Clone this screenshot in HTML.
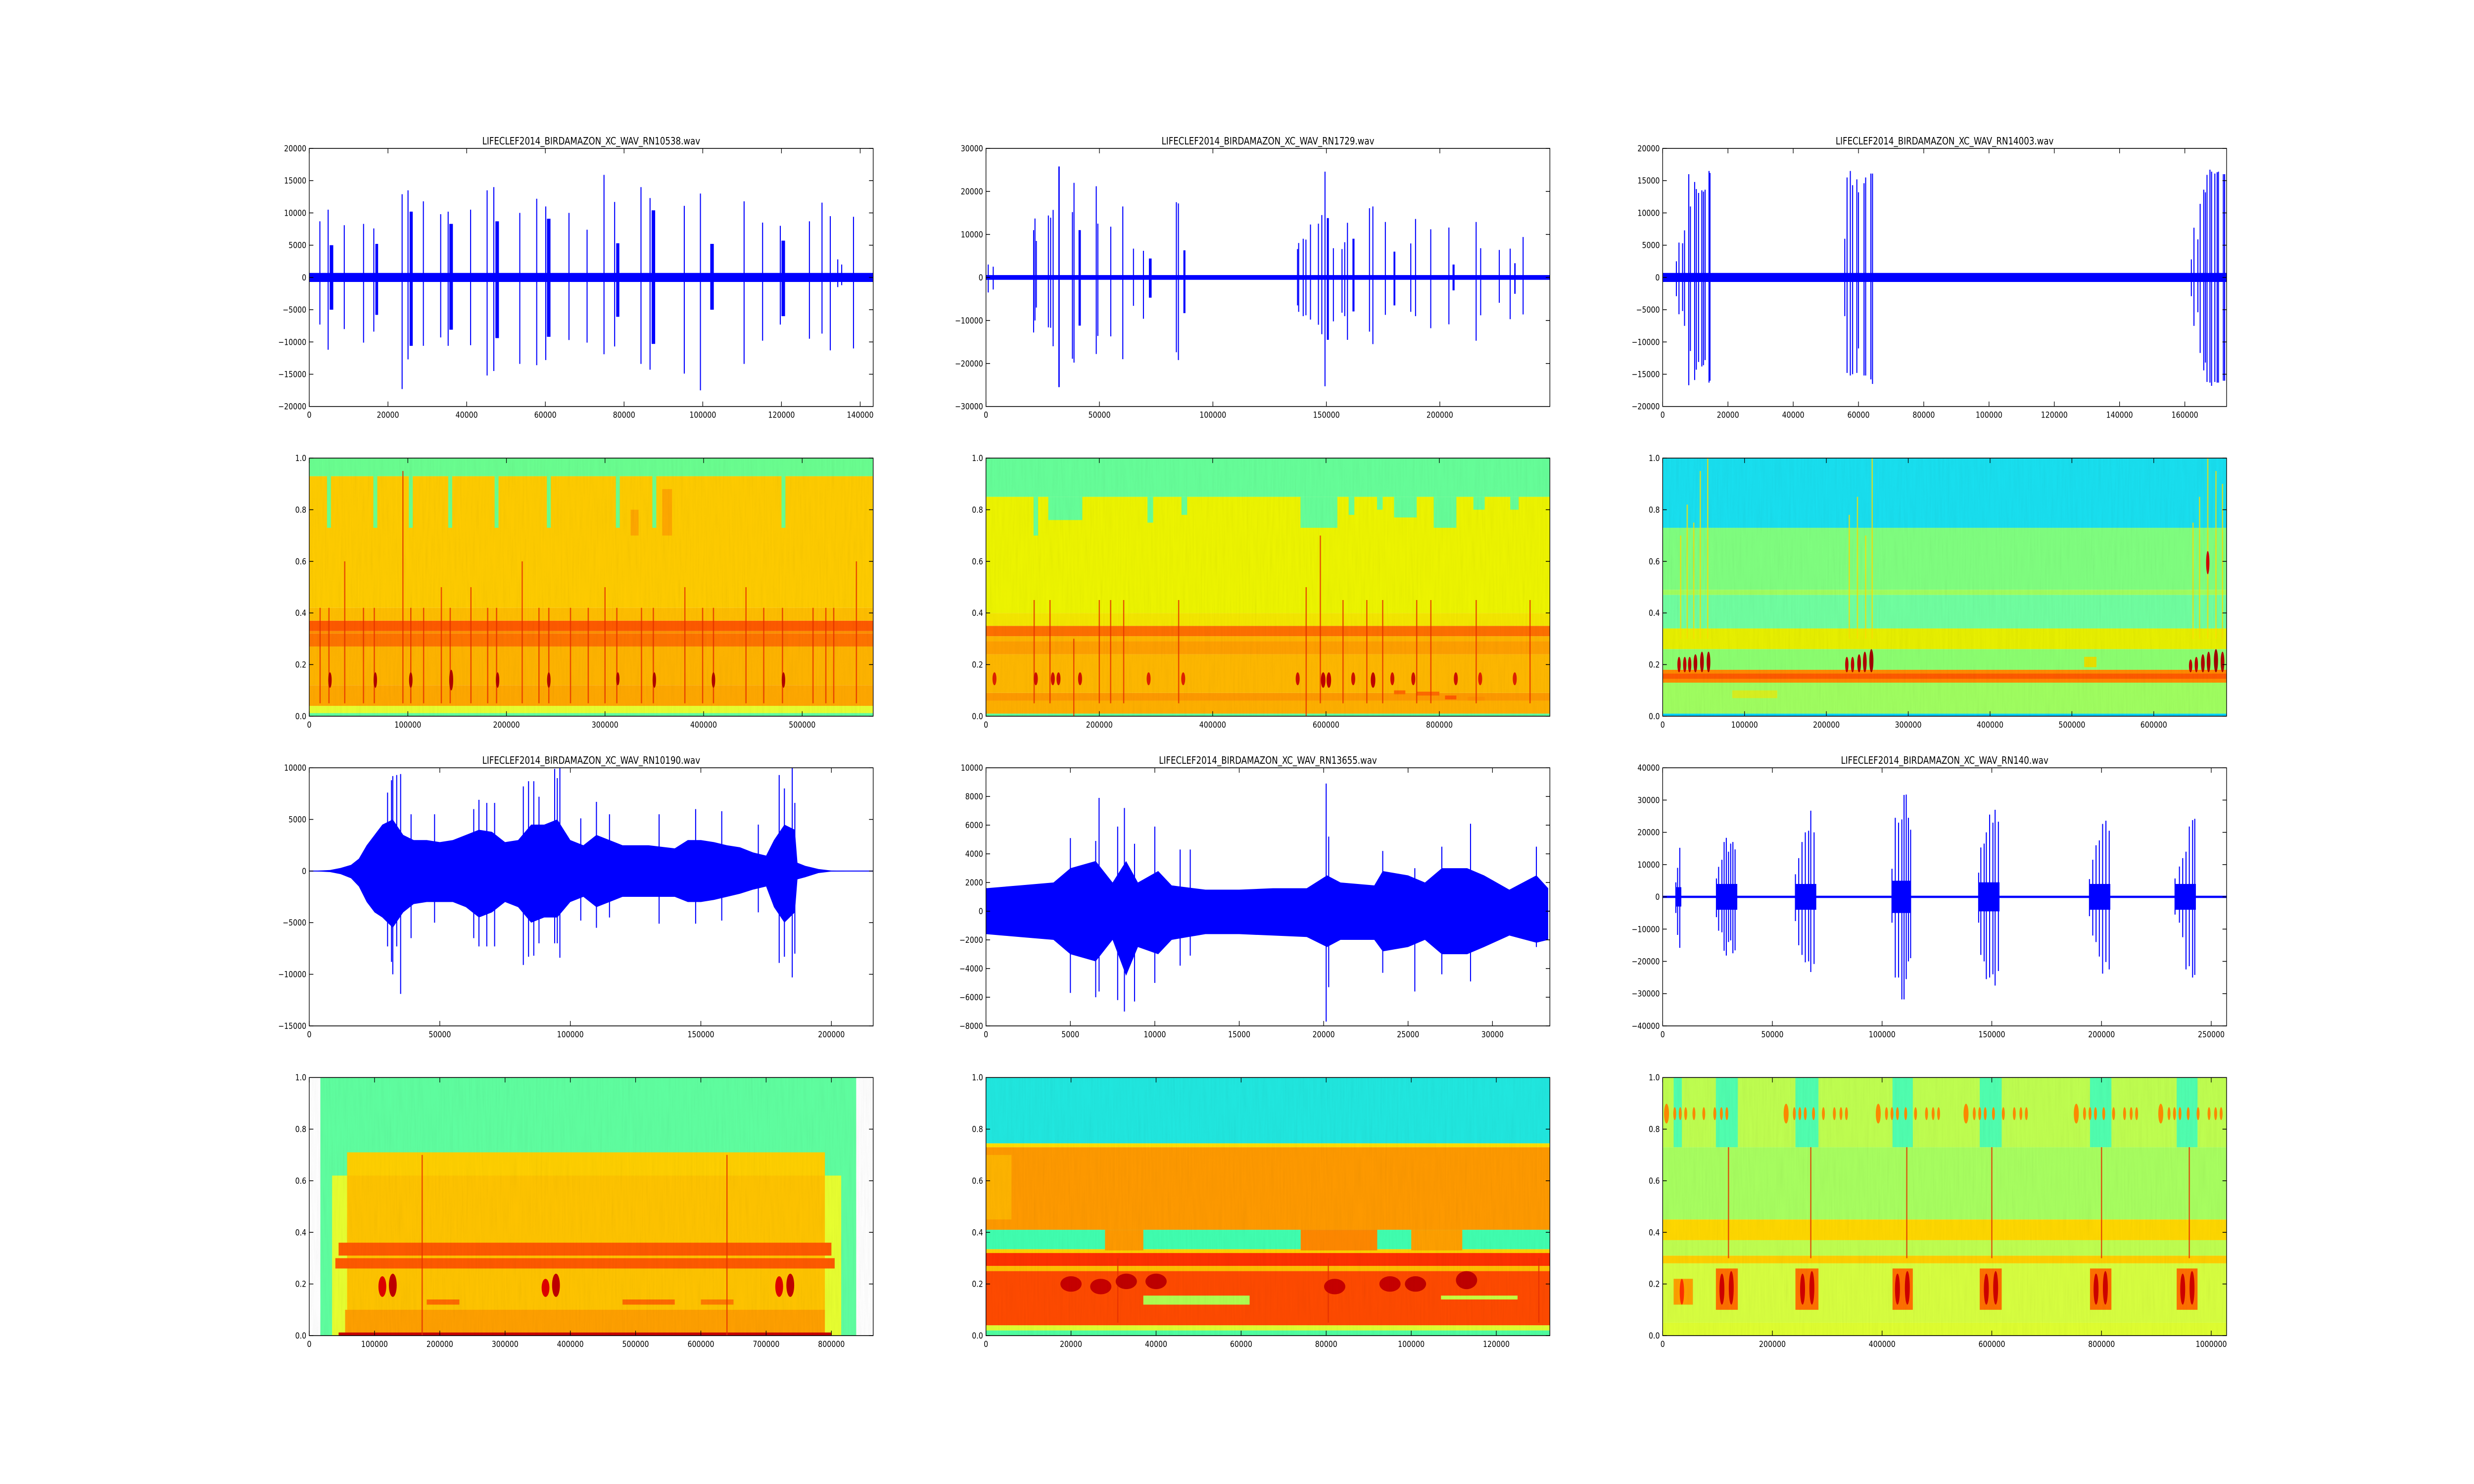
<!DOCTYPE html>
<html><head><meta charset="utf-8"><title>Bird audio waveforms and spectrograms</title>
<style>html,body{margin:0;padding:0;background:#fff;width:100%;height:100%;overflow:hidden;}svg{display:block;width:100vw;height:100vh;}text{font-family:"DejaVu Sans","Liberation Sans",sans-serif;fill:#000;}</style>
</head><body>
<svg id="fig" xmlns="http://www.w3.org/2000/svg" viewBox="0 0 6000 3000" preserveAspectRatio="none">
<defs>
<filter id="grain" x="0" y="0" width="100%" height="100%"><feTurbulence type="fractalNoise" baseFrequency="0.25 0.012" numOctaves="2" seed="3"/><feColorMatrix type="saturate" values="0"/></filter>
</defs>
<rect x="0" y="0" width="6000" height="3000" fill="#fff"/>
</svg>
<script>
// ---------- waveform data: spikes [sample, max, min, width] ----------
const w1Spikes=[[2700,8700,-7300],[4800,10500,-11200],[5200,5000,-5000,900],[8900,8100,-8000],[13800,8300,-10100],[16400,7600,-8400],[16800,5200,-5800,700],[23600,12900,-17300],[25100,13500,-12700],[25500,10200,-10600,800],[29000,11800,-10600],[33400,9800,-9300],[35300,10200,-10600],[35600,8300,-8100,900],[41000,10500,-10500],[45200,13500,-15200],[46900,14000,-14500],[47300,8700,-9400,900],[53500,10000,-13400],[57800,12200,-13600],[60100,11000,-12800],[60400,9100,-9200,900],[66000,10000,-9700],[70600,7400,-10100],[74900,15900,-11900],[77600,11700,-10700],[78000,5300,-6100,800],[84300,14000,-13400],[86600,12300,-14300],[87000,10400,-10300,900],[95300,11100,-14900],[99400,13000,-17500],[101900,5200,-5000,900],[110500,11800,-13400],[115200,8500,-9800],[119700,8000,-7300],[120000,5700,-6000,900],[127100,8700,-9500],[130300,11600,-8700],[132400,9500,-11300],[134300,2800,-1500],[135300,2000,-1200],[138300,9400,-11000]];
const w2Spikes=[[1000,3000,-3500],[3200,2500,-2800],[21000,11000,-12800],[21600,13700,-10000],[22200,8500,-7000],[27500,14400,-11600],[28500,13900,-11700],[29600,15700,-16000],[31900,25800,-25500,600],[38100,15200,-18900],[38800,22000,-19800],[40800,11000,-11200,1000],[48600,21200,-17800],[49300,12500,-13600],[55000,11800,-13700],[60300,16500,-19000],[65000,6700,-6600],[69400,6200,-9600],[71800,4400,-4700,1200],[83900,17500,-17400],[84800,17200,-19200],[87000,6300,-8300,900],[137300,6600,-6500],[137800,8000,-8000],[139800,9000,-9000],[141000,8800,-8800],[143000,12300,-9800],[146500,12500,-11000],[148000,14500,-13200],[149400,24600,-25300],[150200,13800,-14500,900],[153100,6800,-10200],[156900,6600,-8200],[158100,8200,-9000],[159300,12700,-14500],[161500,9000,-7900,900],[169000,16100,-12600],[170500,16500,-15500],[176000,12900,-8700],[179600,6000,-6500,800],[187200,7900,-8000],[189300,13600,-9000],[196000,11200,-11800],[204000,11600,-10900],[205600,3000,-3000,900],[216000,12900,-14700],[218000,6800,-8800],[226200,6400,-5900],[231000,6700,-9700],[232800,3300,-3800,600],[236700,9400,-8600]];
const w3Spikes=[[4200,2500,-2900],[5000,5400,-5700],[6100,5300,-5200],[6700,7300,-7500],[8000,16000,-16700],[8500,11000,-11400],[9800,14800,-15900],[10300,13700,-14300],[11000,13100,-13100],[12000,13500,-13800],[12500,13300,-13600],[13000,13600,-12800],[14200,16500,-16300],[14500,16200,-16000],[55800,6000,-6000],[56500,15500,-14800],[57500,16500,-15200],[58200,14300,-15000],[59500,15200,-14800],[60000,13200,-11000],[61700,14600,-15200],[62200,15500,-15200],[63800,16100,-15800],[64300,16100,-16500],[162000,2800,-2900],[162800,7700,-7500],[164000,5900,-5400],[164700,11400,-11700],[165800,13600,-14400],[166300,13200,-13200],[166800,15900,-16200],[167700,16700,-16300],[168200,16400,-16800],[169200,16100,-16200],[169900,16300,-16300],[170300,16400,-16300],[171800,16000,-16000],[172200,16000,-16000]];
const w4Envelope=[[0,0,0],[8000,100,-100],[12000,300,-300],[16000,600,-700],[19000,1200,-1500],[22000,2500,-3000],[25000,3500,-4000],[28000,4500,-4500],[32000,5000,-5500],[36000,3500,-4000],[40000,3000,-3200],[45000,3000,-3000],[50000,2800,-3000],[55000,3000,-3000],[60000,3500,-3500],[65000,4000,-4500],[70000,3800,-4000],[75000,2800,-3000],[80000,3000,-3500],[85000,4500,-5000],[90000,4500,-4500],[95000,5000,-4500],[100000,3000,-3000],[105000,2500,-2500],[110000,3500,-3500],[115000,3000,-3000],[120000,2500,-2500],[130000,2500,-2500],[140000,2200,-2500],[145000,3000,-3000],[150000,3000,-3000],[155000,2800,-2800],[160000,2500,-2500],[165000,2300,-2200],[170000,1800,-1800],[175000,1500,-1500],[178000,3000,-3500],[182000,4500,-5000],[186000,4000,-4000],[187000,800,-800],[190000,500,-600],[195000,200,-200],[200000,50,-50],[216000,0,0]];
const w4Spikes=[[30000,7600,-7300],[31500,8800,-8800],[32000,9200,-10000],[33500,9300,-7300],[35000,9400,-11900],[39000,5500,-6500],[48000,5500,-5000],[63000,6000,-6500],[65000,6900,-7300],[68000,6600,-7300],[71000,6600,-7300],[82000,8200,-9100],[84000,8700,-8300],[86000,8700,-8200],[88000,7200,-7000],[94000,9900,-7000],[95000,9000,-7000],[96000,10000,-8400],[104000,5100,-4800],[110000,6700,-5500],[115000,5500,-4500],[134000,5500,-5100],[148000,6000,-5100],[158000,5800,-4800],[172000,4500,-4000],[180000,9300,-8900],[182000,8000,-8300],[185000,10000,-10300],[186000,6600,-8000]];
const w5Envelope=[[0,1600,-1600],[2000,1800,-1800],[4000,2000,-2000],[5000,3000,-3000],[6500,3500,-3500],[7500,2000,-2000],[8300,3500,-4500],[9000,2000,-2500],[10200,2800,-3000],[11000,1800,-2000],[13000,1500,-1600],[15000,1500,-1600],[17000,1600,-1700],[19000,1600,-1800],[20200,2500,-2500],[21000,2000,-2000],[23000,1800,-2000],[23500,2800,-2800],[25000,2500,-2500],[26000,2000,-2000],[27000,3000,-3000],[28500,3000,-3000],[29500,2500,-2500],[31000,1500,-1700],[32600,2500,-2200],[33300,1600,-2000]];
const w5Spikes=[[5000,5100,-5700],[6500,4900,-6000],[6700,7900,-5600],[7800,5900,-6200],[8200,7200,-7000],[8800,4700,-6300],[10000,5900,-5000],[11500,4300,-3800],[12100,4300,-3100],[20150,8900,-7700],[20300,5200,-5300],[23500,4200,-4300],[25400,3000,-5600],[27000,4500,-4400],[28700,6100,-4900],[32600,4500,-2500]];
const w6Blocks=[[6000,8500,3000,-3000],[24500,34000,4000,-4000],[60500,70000,4000,-4000],[104500,113000,5000,-5000],[144000,153500,4500,-4500],[194500,204000,4000,-4000],[233500,243000,4000,-4000]];
const w6Spikes=[[6000,4500,-5000],[6800,9000,-11800],[7800,15200,-15800],[24500,5700,-6300],[25500,9300,-10500],[27000,11500,-11000],[28000,17000,-16700],[29000,18300,-18200],[30000,14000,-14000],[31000,16500,-13500],[32000,17000,-17500],[33000,14700,-16600],[60500,7000,-7500],[62000,12000,-15000],[63500,17000,-18000],[65000,20000,-20300],[66500,20500,-20000],[67500,26700,-23300],[69000,20000,-20800],[104500,8700,-8000],[106000,24500,-25000],[107500,23000,-25000],[109000,24000,-31800],[110000,31600,-31800],[111000,31700,-25500],[112000,24500,-20000],[113000,20800,-19000],[144000,7500,-8000],[145000,15300,-18000],[146500,16500,-20000],[147500,20000,-25500],[149000,25500,-25000],[150500,23000,-24000],[151500,27000,-27500],[153000,23300,-23000],[194500,5500,-6000],[196000,11500,-12000],[197500,16000,-14000],[199000,17500,-18500],[200500,22600,-23800],[202000,23600,-20200],[203500,20500,-22500],[233500,5700,-5500],[235500,9400,-8000],[237000,12000,-12500],[238500,14000,-22500],[240000,21800,-21500],[241500,23800,-25000],[242500,24200,-24200]];

// ---------- spectrogram data ----------
const s1Bands=[[0,0.012,'#60ffa0'],[0.012,0.04,'#e8ff30'],[0.04,0.12,'#ffa800'],[0.12,0.27,'#ffb400'],[0.27,0.32,'#ff7400'],[0.32,0.33,'#ff9000'],[0.33,0.37,'#ff5a00'],[0.37,0.42,'#ffbe00'],[0.42,0.93,'#ffcc00'],[0.93,1,'#6aff90']];
const s1Patches=[[18000,22000,0.73,0.93,'#6aff90'],[65000,69000,0.73,0.93,'#6aff90'],[101000,105000,0.73,0.93,'#6aff90'],[141000,145000,0.73,0.93,'#6aff90'],[188000,192000,0.73,0.93,'#6aff90'],[241000,245000,0.73,0.93,'#6aff90'],[311000,315000,0.73,0.93,'#6aff90'],[348000,352000,0.73,0.93,'#6aff90'],[479000,483000,0.73,0.93,'#6aff90'],[326000,334000,0.7,0.8,'#ffa800'],[358000,368000,0.7,0.88,'#ffa800']];
const s1Streaks=[[11000,0.05,0.42],[20000,0.05,0.42],[36000,0.05,0.6],[55000,0.05,0.42],[66000,0.05,0.42],[95000,0.05,0.95],[103000,0.05,0.42],[116000,0.05,0.42],[134000,0.05,0.5],[143000,0.05,0.42],[164000,0.05,0.5],[181000,0.05,0.42],[190000,0.05,0.42],[216000,0.05,0.6],[233000,0.05,0.42],[243000,0.05,0.42],[265000,0.05,0.42],[283000,0.05,0.42],[300000,0.05,0.5],[312000,0.05,0.42],[337000,0.05,0.42],[349000,0.05,0.42],[381000,0.05,0.5],[399000,0.05,0.42],[410000,0.05,0.42],[443000,0.05,0.5],[461000,0.05,0.42],[480000,0.05,0.42],[511000,0.05,0.42],[524000,0.05,0.42],[532000,0.05,0.42],[555000,0.05,0.6]];
const s1Blobs=[[21000,0.11,0.17,3500,'#b00000'],[67000,0.11,0.17,3500,'#b00000'],[103000,0.11,0.17,3500,'#b00000'],[144000,0.1,0.18,4000,'#b00000'],[191000,0.11,0.17,3500,'#b00000'],[243000,0.11,0.17,3500,'#b00000'],[313000,0.12,0.17,3000,'#b00000'],[350000,0.11,0.17,3500,'#b00000'],[410000,0.11,0.17,3500,'#b00000'],[481000,0.11,0.17,3500,'#b00000']];

const s2Bands=[[0,0.01,'#60ffa0'],[0.01,0.06,'#ffb000'],[0.06,0.09,'#ff9a00'],[0.09,0.24,'#ffb800'],[0.24,0.29,'#ffa000'],[0.29,0.31,'#ffb400'],[0.31,0.35,'#ff7000'],[0.35,0.4,'#f5e800'],[0.4,0.85,'#eef500'],[0.85,1,'#66ff99']];
const s2Patches=[[84000,92000,0.7,0.85,'#66ff99'],[110000,170000,0.76,0.85,'#66ff99'],[285000,295000,0.75,0.85,'#66ff99'],[345000,355000,0.78,0.85,'#66ff99'],[555000,620000,0.73,0.85,'#66ff99'],[640000,650000,0.78,0.85,'#66ff99'],[690000,700000,0.8,0.85,'#66ff99'],[720000,760000,0.77,0.85,'#66ff99'],[790000,830000,0.73,0.85,'#66ff99'],[860000,880000,0.8,0.85,'#66ff99'],[925000,940000,0.8,0.85,'#66ff99'],[720000,740000,0.085,0.1,'#ff6a00'],[760000,800000,0.08,0.095,'#ff6a00'],[810000,830000,0.065,0.08,'#ff5a00'],[850000,880000,0.06,0.075,'#ff9000']];
const s2Streaks=[[85000,0.05,0.45],[113000,0.05,0.45],[155000,0.0,0.3],[200000,0.05,0.45],[220000,0.05,0.45],[243000,0.05,0.45],[340000,0.05,0.45],[565000,0.0,0.5],[590000,0.05,0.7],[630000,0.05,0.45],[672000,0.05,0.45],[700000,0.05,0.45],[760000,0.05,0.45],[785000,0.05,0.45],[865000,0.05,0.45],[960000,0.05,0.45]];
const s2Blobs=[[15000,0.12,0.17,7000,'#e02000'],[88000,0.12,0.17,7000,'#d01000'],[118000,0.12,0.17,7000,'#d01000'],[128000,0.12,0.17,7000,'#d01000'],[166000,0.12,0.17,7000,'#d01000'],[287000,0.12,0.17,7000,'#e02000'],[348000,0.12,0.17,7000,'#e02000'],[550000,0.12,0.17,7000,'#d01000'],[595000,0.11,0.17,8000,'#c00000'],[605000,0.11,0.17,8000,'#c00000'],[648000,0.12,0.17,7000,'#d01000'],[683000,0.11,0.17,8000,'#c00000'],[717000,0.12,0.17,7000,'#d01000'],[754000,0.12,0.17,7000,'#d01000'],[829000,0.12,0.17,7000,'#d01000'],[872000,0.12,0.17,7000,'#e02000'],[933000,0.12,0.17,7000,'#e02000']];

const s3Bands=[[0,0.01,'#00d0ff'],[0.01,0.13,'#a0ff60'],[0.13,0.18,'#ff8a00'],[0.145,0.165,'#ff5a00'],[0.18,0.26,'#8cff70'],[0.26,0.34,'#e8f000'],[0.34,0.47,'#70ffa0'],[0.47,0.49,'#a0ff60'],[0.49,0.73,'#80ff80'],[0.73,1,'#18e0f0']];
const s3Patches=[[85000,140000,0.07,0.1,'#d8f020'],[515000,530000,0.19,0.23,'#e8e000']];
const s3Streaks=[[22000,0.3,0.7],[30000,0.3,0.82],[38000,0.3,0.75],[46000,0.3,0.95],[55000,0.3,1],[228000,0.3,0.78],[238000,0.3,0.85],[248000,0.3,0.7],[256000,0.3,1],[648000,0.3,0.75],[656000,0.3,0.85],[666000,0.3,1],[676000,0.3,0.95],[684000,0.3,0.9]];
const s3Blobs=[[20000,0.17,0.23,4000,'#c00000'],[27000,0.17,0.23,4000,'#c00000'],[33000,0.17,0.23,4000,'#c00000'],[40000,0.17,0.24,4500,'#b00000'],[48000,0.17,0.25,4500,'#b00000'],[56000,0.17,0.25,4500,'#b00000'],[225000,0.17,0.23,4000,'#c00000'],[232000,0.17,0.23,4000,'#c00000'],[240000,0.17,0.24,4500,'#b00000'],[247000,0.17,0.25,4500,'#b00000'],[255000,0.17,0.26,5000,'#a00000'],[645000,0.17,0.22,4000,'#c00000'],[652000,0.17,0.23,4000,'#c00000'],[660000,0.17,0.24,4500,'#b00000'],[667000,0.17,0.25,4500,'#b00000'],[676000,0.17,0.26,5000,'#a00000'],[684000,0.17,0.25,4500,'#b00000'],[666000,0.55,0.64,3500,'#d00000']];

const s4Bands=[[0,1,'#5fffa0',17000,838000],[0,0.62,'#e8ff30',35000,815000],[0,0.71,'#ffc400',58000,790000],[0.62,0.71,'#ffd000',58000,790000],[0.012,0.1,'#ffa000',55000,790000],[0.26,0.3,'#ff5a00',40000,805000],[0.31,0.36,'#ff5a00',45000,800000],[0,0.012,'#c80000',45000,800000]];
const s4Patches=[[180000,230000,0.12,0.14,'#ff6a00'],[480000,560000,0.12,0.14,'#ff6a00'],[600000,650000,0.12,0.14,'#ff7a00']];
const s4Streaks=[[173000,0.0,0.7],[640000,0.0,0.7]];
const s4Blobs=[[112000,0.15,0.23,12000,'#e00000'],[128000,0.15,0.24,12000,'#c00000'],[362000,0.15,0.22,12000,'#e00000'],[378000,0.15,0.24,12000,'#c00000'],[720000,0.15,0.23,12000,'#e00000'],[737000,0.15,0.24,12000,'#c00000']];

const s5Bands=[[0,0.02,'#50ffa0'],[0.02,0.04,'#e0ff30'],[0.04,0.25,'#ff4a00'],[0.25,0.27,'#ffc000'],[0.27,0.32,'#ff3000'],[0.32,0.335,'#ffd000'],[0.335,0.41,'#40ffb0'],[0.41,0.73,'#ff9a00'],[0.73,0.745,'#ffe000'],[0.745,1,'#20e8e0']];
const s5Patches=[[74000,92000,0.33,0.41,'#ff8800'],[28000,37000,0.33,0.41,'#ff9a00'],[100000,112000,0.33,0.41,'#ffa000'],[37000,62000,0.12,0.155,'#b0ff50'],[107000,125000,0.14,0.155,'#c8ff40'],[0,6000,0.45,0.7,'#ffb400']];
const s5Streaks=[[31000,0.05,0.3],[80500,0.05,0.3],[130000,0.05,0.3]];
const s5Blobs=[[20000,0.17,0.23,5000,'#c80000'],[27000,0.16,0.22,5000,'#c80000'],[33000,0.18,0.24,5000,'#c00000'],[40000,0.18,0.24,5000,'#c00000'],[82000,0.16,0.22,5000,'#c80000'],[95000,0.17,0.23,5000,'#c80000'],[101000,0.17,0.23,5000,'#c00000'],[113000,0.18,0.25,5000,'#c00000']];

const s6Bands=[[0,0.05,'#e0ff30'],[0.05,0.28,'#d8ff40'],[0.28,0.31,'#ffd000'],[0.31,0.37,'#c0ff50'],[0.37,0.45,'#ffd800'],[0.45,0.73,'#a8ff60'],[0.73,1,'#c0ff50']];
const s6Patches=[[20000,35000,0.73,1,'#50ffb0'],[97000,137000,0.73,1,'#50ffb0'],[242000,284000,0.73,1,'#50ffb0'],[419000,456000,0.73,1,'#50ffb0'],[578000,618000,0.73,1,'#50ffb0'],[779000,818000,0.73,1,'#50ffb0'],[937000,975000,0.73,1,'#50ffb0'],[97000,137000,0.1,0.26,'#ff7000'],[242000,284000,0.1,0.26,'#ff7000'],[419000,456000,0.1,0.26,'#ff7000'],[578000,618000,0.1,0.26,'#ff7000'],[779000,818000,0.1,0.26,'#ff7000'],[937000,975000,0.1,0.26,'#ff7000'],[20000,55000,0.12,0.22,'#ffa000']];
const s6Streaks=[[120000,0.3,0.73],[270000,0.3,0.73],[445000,0.3,0.73],[600000,0.3,0.73],[800000,0.3,0.73],[960000,0.3,0.73]];
const s6Blobs=[[35000,0.12,0.22,8000,'#ff3000'],[108000,0.12,0.24,9000,'#d00000'],[125000,0.12,0.25,9000,'#d00000'],[255000,0.12,0.24,9000,'#d00000'],[272000,0.12,0.25,9000,'#d00000'],[428000,0.12,0.24,9000,'#d00000'],[446000,0.12,0.25,9000,'#d00000'],[590000,0.12,0.24,9000,'#d00000'],[607000,0.12,0.25,9000,'#d00000'],[790000,0.12,0.24,9000,'#d00000'],[807000,0.12,0.25,9000,'#d00000'],[948000,0.12,0.24,9000,'#d00000'],[965000,0.12,0.25,9000,'#d00000']];
const s6OvalGroupStarts=[7000,225000,393000,553000,754000,908000];
const s6OvalOffsets=[0,15000,25000,35000,50000,68000,88000,100000,110000];

// ---------- tick arrays ----------
const t1X=[0,20000,40000,60000,80000,100000,120000,140000], t1Y=[-20000,-15000,-10000,-5000,0,5000,10000,15000,20000];
const t2X=[0,50000,100000,150000,200000], t2Y=[-30000,-20000,-10000,0,10000,20000,30000];
const t3X=[0,20000,40000,60000,80000,100000,120000,140000,160000], t3Y=t1Y;
const t4X=[0,50000,100000,150000,200000], t4Y=[-15000,-10000,-5000,0,5000,10000];
const t5X=[0,5000,10000,15000,20000,25000,30000], t5Y=[-8000,-6000,-4000,-2000,0,2000,4000,6000,8000,10000];
const t6X=[0,50000,100000,150000,200000,250000], t6Y=[-40000,-30000,-20000,-10000,0,10000,20000,30000,40000];
const sY=[0,0.2,0.4,0.6,0.8,1.0];
const s1X=[0,100000,200000,300000,400000,500000], s2X=[0,200000,400000,600000,800000], s3X=[0,100000,200000,300000,400000,500000,600000];
const s4X=[0,100000,200000,300000,400000,500000,600000,700000,800000], s5X=[0,20000,40000,60000,80000,100000,120000], s6X=[0,200000,400000,600000,800000,1000000];

const panels=[
 {row:0,col:0,kind:'wave',title:'LIFECLEF2014_BIRDAMAZON_XC_WAV_RN10538.wav',xmax:143300,ymin:-20000,ymax:20000,xt:t1X,yt:t1Y,noise:700,spikes:w1Spikes,slug:'rn10538'},
 {row:0,col:1,kind:'wave',title:'LIFECLEF2014_BIRDAMAZON_XC_WAV_RN1729.wav',xmax:248500,ymin:-30000,ymax:30000,xt:t2X,yt:t2Y,noise:550,spikes:w2Spikes,slug:'rn1729'},
 {row:0,col:2,kind:'wave',title:'LIFECLEF2014_BIRDAMAZON_XC_WAV_RN14003.wav',xmax:172800,ymin:-20000,ymax:20000,xt:t3X,yt:t3Y,noise:700,spikes:w3Spikes,slug:'rn14003'},
 {row:1,col:0,kind:'spec',xmax:572000,xt:s1X,yt:sY,bands:s1Bands,patches:s1Patches,streaks:s1Streaks,blobs:s1Blobs,slug:'rn10538'},
 {row:1,col:1,kind:'spec',xmax:995000,xt:s2X,yt:sY,bands:s2Bands,patches:s2Patches,streaks:s2Streaks,blobs:s2Blobs,slug:'rn1729'},
 {row:1,col:2,kind:'spec',xmax:689000,xt:s3X,yt:sY,bands:s3Bands,patches:s3Patches,streaks:s3Streaks,blobs:s3Blobs,slug:'rn14003',streakColor:'#ffe000'},
 {row:2,col:0,kind:'wave',title:'LIFECLEF2014_BIRDAMAZON_XC_WAV_RN10190.wav',xmax:216000,ymin:-15000,ymax:10000,xt:t4X,yt:t4Y,noise:0,envelope:w4Envelope,spikes:w4Spikes,slug:'rn10190'},
 {row:2,col:1,kind:'wave',title:'LIFECLEF2014_BIRDAMAZON_XC_WAV_RN13655.wav',xmax:33400,ymin:-8000,ymax:10000,xt:t5X,yt:t5Y,noise:0,envelope:w5Envelope,spikes:w5Spikes,slug:'rn13655'},
 {row:2,col:2,kind:'wave',title:'LIFECLEF2014_BIRDAMAZON_XC_WAV_RN140.wav',xmax:257000,ymin:-40000,ymax:40000,xt:t6X,yt:t6Y,noise:350,blocks:w6Blocks,spikes:w6Spikes,slug:'rn140'},
 {row:3,col:0,kind:'spec',xmax:864000,xt:s4X,yt:sY,bands:s4Bands,patches:s4Patches,streaks:s4Streaks,blobs:s4Blobs,slug:'rn10190'},
 {row:3,col:1,kind:'spec',xmax:132600,xt:s5X,yt:sY,bands:s5Bands,patches:s5Patches,streaks:s5Streaks,blobs:s5Blobs,slug:'rn13655'},
 {row:3,col:2,kind:'spec',xmax:1028000,xt:s6X,yt:sY,bands:s6Bands,patches:s6Patches,streaks:s6Streaks,blobs:s6Blobs,slug:'rn140',ovals:true}
];

const NS='http://www.w3.org/2000/svg';
const svg=document.getElementById('fig');
function mk(tag,attrs,parent){const e=document.createElementNS(NS,tag);for(const k in attrs)e.setAttribute(k,attrs[k]);parent.appendChild(e);return e;}
function fmt(v,spec){if(spec)return v.toFixed(1);return (v<0?'\u2212':'')+Math.abs(v);}
const L=750,R=5400,T=300,B=2700;
const CW=(R-L)/3.4, CH=(B-T)/4.6;

panels.forEach((p,i)=>{
  const x0=L+p.col*CW*1.2, y0=T+p.row*CH*1.2, w=CW, h=CH;
  const ymin=p.kind==='spec'?0:p.ymin, ymax=p.kind==='spec'?1:p.ymax;
  const xs=v=>x0+v/p.xmax*w;
  const ys=v=>y0+h-(v-ymin)/(ymax-ymin)*h;
  const g=mk('g',{},svg);
  
  
  const cp=mk('clipPath',{id:'clip'+i},g);
  mk('rect',{x:x0,y:y0,width:w,height:h},cp);
  const plot=mk('g',{'clip-path':'url(#clip'+i+')'},g);
  
  
  if(p.kind==='wave'){
    if(p.noise){const n=mk('rect',{x:x0,y:ys(p.noise),width:w,height:ys(-p.noise)-ys(p.noise),fill:'#0000ff'},plot);
      
      }
    if(p.envelope){const pts=p.envelope.map(d=>xs(d[0])+','+ys(d[1])).concat(p.envelope.slice().reverse().map(d=>xs(d[0])+','+ys(d[2])));
      const e=mk('polygon',{points:pts.join(' '),fill:'#0000ff'},plot);
      
      
      const c=mk('line',{x1:x0,x2:x0+w,y1:ys(0),y2:ys(0),stroke:'#0000ff','stroke-width':2},plot);
      
      }
    (p.blocks||[]).forEach(b=>{const r=mk('rect',{x:xs(b[0]),y:ys(b[2]),width:xs(b[1])-xs(b[0]),height:ys(b[3])-ys(b[2]),fill:'#0000ff'},plot);
      
      });
    p.spikes.forEach(s=>{let m;
      if(s[3]){m=mk('rect',{x:xs(s[0]),y:ys(s[1]),width:Math.max(2,xs(s[3])-xs(0)),height:ys(s[2])-ys(s[1]),fill:'#0000ff'},plot);}
      else{m=mk('line',{x1:xs(s[0]),x2:xs(s[0]),y1:ys(s[1]),y2:ys(s[2]),stroke:'#0000ff','stroke-width':2.5},plot);}
      
      });
  } else {
    p.bands.forEach(b=>{const bx0=b.length>3?xs(b[3]):x0, bx1=b.length>3?xs(b[4]):x0+w;
      const r=mk('rect',{x:bx0,y:ys(b[1]),width:bx1-bx0,height:ys(b[0])-ys(b[1]),fill:b[2]},plot);
      
      });
    p.patches.forEach(b=>{const r=mk('rect',{x:xs(b[0]),y:ys(b[3]),width:xs(b[1])-xs(b[0]),height:ys(b[2])-ys(b[3]),fill:b[4]},plot);
      
      });
    p.streaks.forEach(s=>{const l=mk('line',{x1:xs(s[0]),x2:xs(s[0]),y1:ys(s[1]),y2:ys(s[2]),stroke:p.streakColor||'#e83000','stroke-width':3,opacity:0.8},plot);
      
      });
    p.blobs.forEach(b=>{const el=mk('ellipse',{cx:xs(b[0]),cy:(ys(b[1])+ys(b[2]))/2,rx:Math.max(4,(xs(b[3])-xs(0))/2),ry:(ys(b[1])-ys(b[2]))/2,fill:b[4]},plot);
      
      });
    if(p.ovals){s6OvalGroupStarts.forEach(g0=>{s6OvalOffsets.forEach((o,k)=>{const ov=mk('ellipse',{cx:xs(g0+o),cy:ys(0.86),rx:k===0?6:3.5,ry:k===0?20:13,fill:'#ff8a00'},plot);
      
      });});}
    const gr=mk('rect',{x:x0,y:y0,width:w,height:h,filter:'url(#grain)',opacity:0.12,style:'mix-blend-mode:multiply'},plot);
    
    
  }
  const fr=mk('rect',{x:x0,y:y0,width:w,height:h,fill:'none',stroke:'#000','stroke-width':1.6},g);
  
  
  p.xt.forEach(v=>{const X=xs(v);
    const t1=mk('line',{x1:X,x2:X,y1:y0+h,y2:y0+h-10,stroke:'#000','stroke-width':1.5},g);
    
    
    const t2=mk('line',{x1:X,x2:X,y1:y0,y2:y0+10,stroke:'#000','stroke-width':1.5},g);
    
    
    const lb=mk('text',{x:X,y:y0+h+23,'text-anchor':'middle','font-size':17},g);
    lb.textContent=fmt(v,false);
    
    });
  p.yt.forEach(v=>{const Y=ys(v);
    const t1=mk('line',{x1:x0,x2:x0+10,y1:Y,y2:Y,stroke:'#000','stroke-width':1.5},g);
    
    
    const t2=mk('line',{x1:x0+w,x2:x0+w-10,y1:Y,y2:Y,stroke:'#000','stroke-width':1.5},g);
    
    
    const lb=mk('text',{x:x0-7,y:Y+6,'text-anchor':'end','font-size':17},g);
    lb.textContent=fmt(v,p.kind==='spec');
    
    });
  if(p.title){const tt=mk('text',{x:x0+w/2,y:y0-8,'text-anchor':'middle','font-size':20},g);
    tt.textContent=p.title;
    
    }
});
</script>
</body></html>
